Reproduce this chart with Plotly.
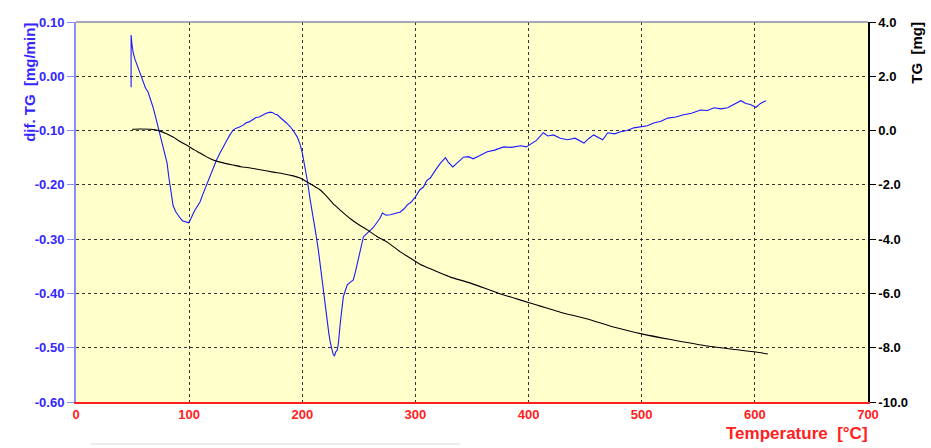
import plotly.graph_objects as go

# dif. TG curve (left axis, mg/min) vs temperature (°C)
dtg_temp = [48.7, 48.7, 49.5, 50.4, 52, 54, 56, 58.4, 60, 61.5, 63.7, 66, 68.1, 70, 72.6, 75, 77, 79, 80.5, 82,
            83.2, 84.5, 85.8, 88, 90, 92, 94, 96.5, 98, 99.5, 100.9, 102.5, 104, 105.3, 107, 109.7, 112, 114,
            115.9, 118, 121.2, 124, 127.4, 130, 133.6, 136, 138.9, 141, 144, 147.8, 150, 153, 156.6, 159, 162,
            165.5, 168, 171.7, 174, 176, 177.9, 180, 183.2, 186, 189.4, 192, 195.6, 198, 200, 202, 204.4, 207,
            209.7, 212, 214.2, 216.5, 218.6, 220.5, 222.1, 223.5, 224.8, 226, 227.4, 228.5, 229.5, 231, 232,
            233.6, 235, 236.3, 238, 239.8, 242, 245.1, 247, 248.7, 251, 254, 257, 260.2, 263, 266.4, 268.5,
            270.8, 274, 277.9, 282, 286.7, 290, 292.9, 296, 300, 304, 307.1, 310, 313.3, 318, 322.1, 326.5,
            329, 333, 337, 342.5, 347, 351, 357, 363.5, 370, 378, 385, 393, 398, 402, 407, 413, 417, 422, 428,
            434.5, 441, 449, 453, 457.5, 461, 465.5, 470, 476, 481.4, 487, 493, 501, 505, 510.6, 517, 523, 530,
            537, 544, 552, 558, 564, 570, 576, 582, 587.6, 592, 596, 601, 605, 609.7]
dtg_values = [-0.020, 0.076, 0.058, 0.045, 0.032, 0.020, 0.008, -0.007, -0.015, -0.022, -0.029, -0.043, -0.057,
              -0.072, -0.093, -0.112, -0.130, -0.148, -0.160, -0.185, -0.204, -0.223, -0.238, -0.249, -0.256,
              -0.261, -0.266, -0.268, -0.270, -0.270, -0.265, -0.256, -0.251, -0.246, -0.240, -0.231, -0.218,
              -0.207, -0.196, -0.185, -0.167, -0.155, -0.141, -0.130, -0.117, -0.108, -0.099, -0.096, -0.094,
              -0.090, -0.086, -0.084, -0.080, -0.076, -0.075, -0.071, -0.068, -0.066, -0.067, -0.070, -0.071,
              -0.075, -0.080, -0.086, -0.093, -0.100, -0.112, -0.125, -0.141, -0.162, -0.191, -0.228, -0.259,
              -0.290, -0.320, -0.360, -0.399, -0.430, -0.454, -0.474, -0.491, -0.503, -0.513, -0.515, -0.508,
              -0.504, -0.490, -0.454, -0.425, -0.406, -0.395, -0.384, -0.380, -0.375, -0.360, -0.344, -0.322,
              -0.296, -0.290, -0.283, -0.278, -0.268, -0.262, -0.252, -0.256, -0.255, -0.252, -0.250, -0.244,
              -0.237, -0.232, -0.222, -0.209, -0.204, -0.192, -0.187, -0.172, -0.160, -0.150, -0.158, -0.167,
              -0.160, -0.149, -0.148, -0.152, -0.146, -0.139, -0.136, -0.130, -0.131, -0.128, -0.130, -0.125,
              -0.118, -0.104, -0.110, -0.108, -0.114, -0.117, -0.114, -0.123, -0.115, -0.108, -0.112, -0.117,
              -0.104, -0.106, -0.102, -0.100, -0.095, -0.093, -0.091, -0.086, -0.083, -0.077, -0.075, -0.071,
              -0.068, -0.062, -0.063, -0.058, -0.060, -0.058, -0.052, -0.045, -0.050, -0.052, -0.057, -0.050,
              -0.045]

# TG curve (right axis, mg) vs temperature (°C)
tg_temp = [49.6, 56, 65.5, 70, 74.3, 80, 85.8, 92, 99.1, 105, 109.7, 115, 121.2, 130, 138.9, 146, 154, 164,
           174.3, 183, 192, 198, 204.4, 210, 215.9, 221, 227.4, 233.6, 242.5, 250, 257.5, 266, 275.2, 286,
           298.2, 304.4, 315.9, 322, 331, 348.7, 373.5, 401, 428, 452, 475, 501, 525.7, 555, 578.8, 601, 611.5]
tg_values = [0.05, 0.06, 0.05, 0.03, -0.02, -0.12, -0.24, -0.40, -0.57, -0.72, -0.83, -0.96, -1.08, -1.19,
             -1.27, -1.33, -1.38, -1.45, -1.53, -1.59, -1.67, -1.75, -1.90, -2.03, -2.19, -2.40, -2.70, -2.93,
             -3.25, -3.47, -3.66, -3.90, -4.11, -4.45, -4.77, -4.93, -5.14, -5.25, -5.40, -5.62, -5.99, -6.35,
             -6.69, -6.94, -7.24, -7.50, -7.70, -7.92, -8.05, -8.16, -8.23]

x_ticks = [0, 100, 200, 300, 400, 500, 600, 700]
left_ticks = [0.10, 0.00, -0.10, -0.20, -0.30, -0.40, -0.50, -0.60]
right_ticks = [4.0, 2.0, 0.0, -2.0, -4.0, -6.0, -8.0, -10.0]

BLUE = "#3326ff"
RED = "#ff2020"
FONT = "Liberation Sans"

fig = go.Figure()
fig.add_trace(go.Scatter(x=dtg_temp, y=dtg_values, mode="lines",
                         line=dict(color="#1a1aff", width=1.1), yaxis="y", showlegend=False))
fig.add_trace(go.Scatter(x=tg_temp, y=tg_values, mode="lines", line_shape="spline",
                         line=dict(color="#000000", width=1.1, smoothing=0.6), yaxis="y2", showlegend=False))

fig.update_layout(
    width=931, height=448,
    margin=dict(l=76, r=63, t=22, b=46),
    paper_bgcolor="white",
    plot_bgcolor="#ffffcc",
    font=dict(family=FONT),
    xaxis=dict(range=[0, 700], tickvals=x_ticks, ticktext=[str(v) for v in x_ticks],
               showline=True, linecolor=RED, linewidth=1.5,
               showgrid=True, gridcolor="#333333", griddash="3px,3px", gridwidth=1,
               zeroline=False, ticks="", tickfont=dict(family=FONT, size=13, color=RED, weight="bold")),
    yaxis=dict(range=[-0.6, 0.1], tickvals=left_ticks, ticktext=[f"{v:.2f}" for v in left_ticks],
               showline=True, linecolor="#8c8cff", linewidth=2,
               showgrid=True, gridcolor="#333333", griddash="3px,3px", gridwidth=1,
               zeroline=False, ticks="outside", ticklen=7, tickcolor="#8c8cff",
               tickfont=dict(family=FONT, size=13, color=BLUE, weight="bold")),
    yaxis2=dict(range=[-10, 4], tickvals=right_ticks, ticktext=[f"{v:.1f}" for v in right_ticks],
                overlaying="y", side="right", showline=True, linecolor="black", linewidth=1.5,
                showgrid=False, zeroline=False, ticks="outside", ticklen=6, tickcolor="black",
                tickfont=dict(family=FONT, size=13, color="black", weight="bold")),
    shapes=[
        dict(type="line", xref="paper", yref="paper", x0=0, x1=1, y0=1, y1=1,
             line=dict(color="#8a8aaa", width=1.5)),
        dict(type="line", xref="paper", yref="paper", x0=0.018, x1=0.485, y0=-0.1105, y1=-0.1105,
             line=dict(color="#dddddd", width=1)),
    ],
    annotations=[
        dict(text="dif. TG  [mg/min]", xref="paper", yref="paper", x=-0.058, y=0.84,
             xanchor="center", yanchor="middle", textangle=-90, showarrow=False,
             font=dict(family=FONT, size=15, color=BLUE, weight="bold")),
        dict(text="TG  [mg]", xref="paper", yref="paper", x=1.061, y=0.92,
             xanchor="center", yanchor="middle", textangle=-90, showarrow=False,
             font=dict(family=FONT, size=15, color="black", weight="bold")),
        dict(text="Temperature  [°C]", xref="paper", yref="paper", x=1.002, y=-0.052,
             xanchor="right", yanchor="top", showarrow=False,
             font=dict(family=FONT, size=17, color=RED, weight="bold")),
    ],
)

fig.write_html("out.html", config={"displayModeBar": False},
               post_script="document.body.style.margin='0';document.body.style.overflow='hidden';")
